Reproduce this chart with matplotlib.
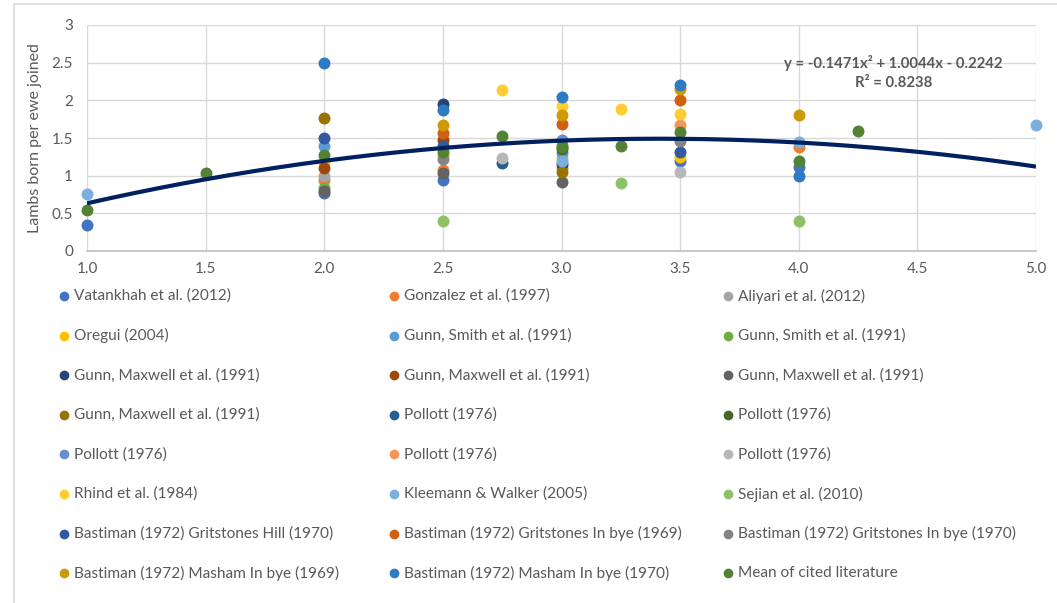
import matplotlib
matplotlib.use("Agg")
import matplotlib.pyplot as plt
from matplotlib.lines import Line2D
from matplotlib.patches import Rectangle
from matplotlib.ticker import FuncFormatter, MultipleLocator
import numpy as np

plt.rcParams['font.family'] = ['Lato', 'DejaVu Sans']

# ---- data -------------------------------------------------------------
series_names = [
    "Vatankhah et al. (2012)", "Gonzalez et al. (1997)", "Aliyari et al. (2012)",
    "Oregui (2004)", "Gunn, Smith et al. (1991)", "Gunn, Smith et al. (1991)",
    "Gunn, Maxwell et al. (1991)", "Gunn, Maxwell et al. (1991)", "Gunn, Maxwell et al. (1991)",
    "Gunn, Maxwell et al. (1991)", "Pollott (1976)", "Pollott (1976)",
    "Pollott (1976)", "Pollott (1976)", "Pollott (1976)",
    "Rhind et al. (1984)", "Kleemann & Walker (2005)", "Sejian et al. (2010)",
    "Bastiman (1972) Gritstones Hill (1970)", "Bastiman (1972) Gritstones In bye (1969)",
    "Bastiman (1972) Gritstones In bye (1970)",
    "Bastiman (1972) Masham In bye (1969)", "Bastiman (1972) Masham In bye (1970)",
    "Mean of cited literature",
]

series_colors = [
    "#4472C4", "#ED7D31", "#A5A5A5", "#FFC000", "#5B9BD5", "#70AD47",
    "#264478", "#9E480E", "#636363", "#997300", "#255E91", "#43682B",
    "#698ED0", "#F1975A", "#B7B7B7", "#FFCD33", "#7CAFDD", "#8CC168",
    "#335AA1", "#D26012", "#848484", "#CC9A06", "#2E7BC4", "#548235",
]

vatankhah_x = [1.0, 2.0, 2.5, 3.5, 4.0]
vatankhah_y = [0.34, 0.77, 0.94, 1.19, 1.12]
gonzalez_x = [2.0, 2.5, 3.0, 4.0]
gonzalez_y = [0.94, 1.08, 1.10, 1.38]
aliyari_x = [2.0]
aliyari_y = [1.00]
oregui_x = [2.0, 2.5, 3.0, 3.5]
oregui_y = [1.18, 1.27, 1.23, 1.25]
gunn_smith_a_x = [2.0, 3.0]
gunn_smith_a_y = [1.40, 1.30]
gunn_smith_b_x = [2.0, 3.0]
gunn_smith_b_y = [0.83, 1.41]
gunn_maxwell_a_x = [2.5, 3.0]
gunn_maxwell_a_y = [1.95, 1.16]
gunn_maxwell_b_x = [2.0, 2.5]
gunn_maxwell_b_y = [1.10, 1.48]
gunn_maxwell_c_x = [2.0, 2.5, 3.0]
gunn_maxwell_c_y = [0.79, 1.03, 0.92]
gunn_maxwell_d_x = [2.0, 3.0]
gunn_maxwell_d_y = [1.77, 1.05]
pollott_a_x = [2.75]
pollott_a_y = [1.17]
pollott_b_x = [3.0]
pollott_b_y = [1.36]
pollott_c_x = [3.0]
pollott_c_y = [1.47]
pollott_d_x = [3.5]
pollott_d_y = [1.67]
pollott_e_x = [2.75, 3.5]
pollott_e_y = [1.23, 1.05]
rhind_x = [2.75, 3.0, 3.25, 3.5]
rhind_y = [2.14, 1.92, 1.89, 1.82]
kleemann_x = [1.0, 3.0, 4.0, 5.0]
kleemann_y = [0.76, 1.20, 1.45, 1.67]
sejian_x = [2.5, 3.25, 4.0]
sejian_y = [0.40, 0.90, 0.40]
grit_hill_70_x = [2.0, 2.5, 3.5]
grit_hill_70_y = [1.50, 1.40, 1.31]
grit_inbye_69_x = [2.5, 3.0, 3.5]
grit_inbye_69_y = [1.56, 1.69, 2.00]
grit_inbye_70_x = [2.5, 3.5]
grit_inbye_70_y = [1.22, 1.46]
masham_69_x = [2.5, 3.0, 3.5, 4.0]
masham_69_y = [1.67, 1.81, 2.15, 1.80]
masham_70_x = [2.0, 2.5, 3.0, 3.5, 4.0]
masham_70_y = [2.50, 1.87, 2.05, 2.20, 0.99]
mean_x = [1.0, 1.5, 2.0, 2.5, 2.75, 3.0, 3.25, 3.5, 4.0, 4.25]
mean_y = [0.55, 1.03, 1.27, 1.32, 1.52, 1.38, 1.40, 1.58, 1.19, 1.59]

series_x = [vatankhah_x, gonzalez_x, aliyari_x, oregui_x, gunn_smith_a_x, gunn_smith_b_x,
            gunn_maxwell_a_x, gunn_maxwell_b_x, gunn_maxwell_c_x, gunn_maxwell_d_x,
            pollott_a_x, pollott_b_x, pollott_c_x, pollott_d_x, pollott_e_x,
            rhind_x, kleemann_x, sejian_x, grit_hill_70_x, grit_inbye_69_x,
            grit_inbye_70_x, masham_69_x, masham_70_x, mean_x]
series_y = [vatankhah_y, gonzalez_y, aliyari_y, oregui_y, gunn_smith_a_y, gunn_smith_b_y,
            gunn_maxwell_a_y, gunn_maxwell_b_y, gunn_maxwell_c_y, gunn_maxwell_d_y,
            pollott_a_y, pollott_b_y, pollott_c_y, pollott_d_y, pollott_e_y,
            rhind_y, kleemann_y, sejian_y, grit_hill_70_y, grit_inbye_69_y,
            grit_inbye_70_y, masham_69_y, masham_70_y, mean_y]

# polynomial trend line (quadratic) coefficients: a*x^2 + b*x + c
trend_coef = [-0.1471, 1.0044, -0.2242]
trend_r2 = 0.8238

# ---- figure -----------------------------------------------------------
W, H = 1057, 603
fig = plt.figure(figsize=(W / 100, H / 100), dpi=100)
fig.patch.set_facecolor("white")

# outer chart border
fig.add_artist(Rectangle((14 / W, -0.05), 1.1, 1 - 4 / H + 0.05,
                         transform=fig.transFigure, fill=False,
                         edgecolor="#D9D9D9", linewidth=1.2))

ax = fig.add_axes([87 / W, 1 - 251 / H, (1036 - 87) / W, (251 - 25) / H])
ax.set_xlim(1.0, 5.0)
ax.set_ylim(0, 3)
ax.xaxis.set_major_locator(MultipleLocator(0.5))
ax.yaxis.set_major_locator(MultipleLocator(0.5))
ax.xaxis.set_major_formatter(FuncFormatter(lambda v, p: f"{v:.1f}"))
ax.yaxis.set_major_formatter(FuncFormatter(lambda v, p: f"{v:g}"))
ax.grid(True, color="#D9D9D9", linewidth=1.0)
ax.set_axisbelow(True)
for s in ("top", "right", "left"):
    ax.spines[s].set_visible(False)
ax.spines["bottom"].set_color("#BFBFBF")
ax.spines["bottom"].set_linewidth(1.2)
ax.tick_params(length=0, labelsize=11, labelcolor="#595959")
ax.tick_params(axis="x", pad=8)
ax.tick_params(axis="y", pad=10)
ax.set_ylabel("Lambs born per ewe joined", fontsize=11.5, color="#595959", labelpad=7)

for xs, ys, col in zip(series_x, series_y, series_colors):
    ax.plot(xs, ys, linestyle="none", marker="o", markersize=7.6,
            markerfacecolor=col, markeredgecolor=col, clip_on=False, zorder=3)

xx = np.linspace(1.0, 5.0, 200)
ax.plot(xx, np.polyval(trend_coef, xx), color="#002060", linewidth=3.0,
        solid_capstyle="butt", zorder=4)

a, b, c = trend_coef
eq = f"y = {a:.4f}x\u00b2 + {b:.4f}x - {abs(c):.4f}"
ax.text(4.40, 2.50, eq, ha="center", va="center", fontsize=10.7, fontweight="bold",
        color="#595959", zorder=5)
ax.text(4.40, 2.23, f"R\u00b2 = {trend_r2:.4f}", ha="center", va="center",
        fontsize=10.7, fontweight="bold", color="#595959", zorder=5)

# ---- legend (row-wise, three columns) ---------------------------------
marker_cols = [64, 394, 728]
row0, row_step = 296, 39.6
for i, (name, col) in enumerate(zip(series_names, series_colors)):
    r, k = divmod(i, 3)
    yp = row0 + r * row_step
    xm = marker_cols[k]
    fig.add_artist(Line2D([xm / W], [1 - yp / H], transform=fig.transFigure,
                          linestyle="none", marker="o", markersize=6,
                          markerfacecolor=col, markeredgecolor=col))
    fig.text((xm + 10) / W, 1 - yp / H, name, ha="left", va="center",
             fontsize=11.1, color="#595959")

fig.savefig("out.png", dpi=100, facecolor="white")
